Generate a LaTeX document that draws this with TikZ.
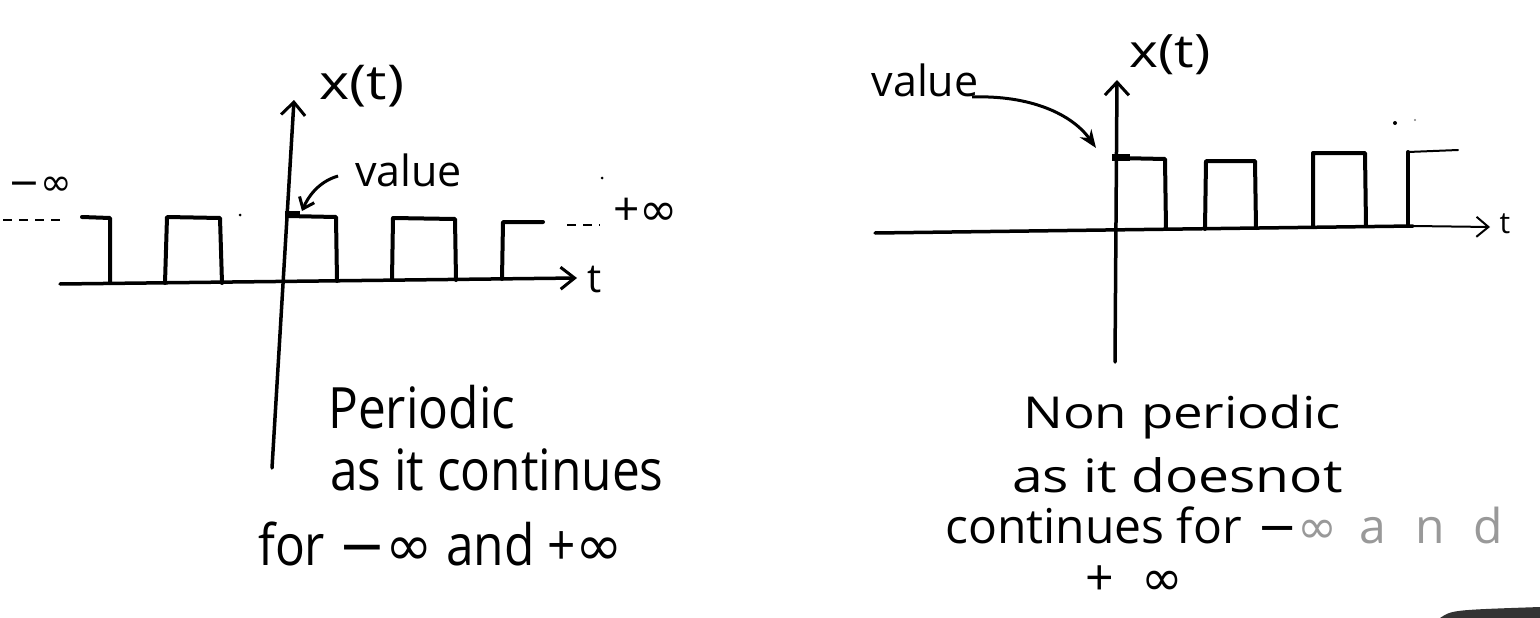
\documentclass[tikz,border=0pt]{standalone}
\usepackage{fontspec}
\setmainfont{Open Sans}
\newfontfamily\narrowf[FakeStretch=0.87]{Open Sans}
\newfontfamily\widef[FakeStretch=1.2]{Open Sans}
\newfontfamily\spacedf[LetterSpace=60]{Open Sans}
\newfontfamily\symf{DejaVu Sans}
\newcommand{\infsym}{{\symf ∞}}
\newcommand{\minussym}{{\symf −}}
\usetikzlibrary{arrows.meta}
\begin{document}
\begin{tikzpicture}[x=1pt,y=-1pt,
  wave/.style={line width=4pt,line join=round,line cap=round},
  thinwave/.style={line width=2pt,line cap=round},
  ax/.style={line width=3.5pt,line cap=round},
  barb/.style={-{Straight Barb[length=13pt,width=24pt,line width=3pt]}},
  valmark/.style={line width=7pt},
  dotline/.style={line width=2.5pt,dash pattern=on 9pt off 7pt},
  lefttxt/.style={font=\narrowf\fontsize{57}{60}\selectfont,inner sep=0pt,anchor=base west},
  righttxt/.style={font=\widef\fontsize{#1}{#1}\selectfont,inner sep=0pt,anchor=base west},
  plaintxt/.style={font=\fontsize{#1}{#1}\selectfont,inner sep=0pt,anchor=base west},
  lbl/.style={font=\fontsize{#1}{#1}\selectfont,inner sep=0pt},
  widelbl/.style={font=\widef\fontsize{#1}{#1}\selectfont,inner sep=0pt}]
\useasboundingbox (0,0) rectangle (1540,618);
\fill[white] (0,0) rectangle (1540,618);

% ---------------- left: periodic ----------------
\coordinate (LAb) at (272,468);
\coordinate (LAt) at (294,100);
\draw[ax,barb] (LAb) -- (LAt);
\coordinate (LXa) at (60,284);
\coordinate (LXb) at (577,278);
\draw[ax,-{Straight Barb[length=14pt,width=22pt,line width=3pt]}] (LXa) -- (LXb);
\node[lbl=40] (Lt) at (595,280) {t};
\node[widelbl=48] (Lx) at (362,86) {x(t)};

\draw[dotline] (3,220) -- (63,220);
\draw[wave] (82,217) -- (110,218) -- (110,283);
\draw[wave] (165,283) -- (167,217) -- (220,218) -- (222,283);
\draw[wave] (287,216) -- (336,217) -- (337,281);
\draw[wave] (392,280) -- (393,218) -- (455,219) -- (456,280);
\draw[wave] (502,279) -- (503,222) -- (543,222);
\draw[valmark] (285,214) -- (300,214);
\fill (240,215) circle (1.5pt);
\fill (602,178) circle (1.5pt);
\draw[dotline] (567,225) -- (600,225);

\node[lbl=38] (Lminf) at (40,186) {\minussym\infsym};
\node[lbl=46] (Lpinf) at (646,212) {+\infsym};

\node[lbl=43,anchor=base west] (Lval) at (355,186) {value};
\coordinate (LvS) at (338,176);
\coordinate (LvE) at (302,211);
\draw[line width=3pt,-{Straight Barb[length=10pt,width=16pt,line width=3pt]}]
  (LvS) .. controls (318,182) and (308,197) .. (LvE);

\node[lefttxt] (P1) at (328,428) {Periodic};
\node[lefttxt] (P2) at (330,490) {as it continues};
\node[lefttxt] (P3) at (258,565) {for \minussym\infsym{} and +\infsym};

% ---------------- right: non periodic ----------------
\coordinate (RAb) at (1115,362);
\coordinate (RAt) at (1117,80);
\draw[ax,barb] (RAb) -- (RAt);
\coordinate (RXa) at (875,233);
\coordinate (RXm) at (1413,226);
\coordinate (RXb) at (1490,227);
\draw[ax] (RXa) -- (RXm);
\draw[thinwave,-{Straight Barb[length=12pt,width=20pt,line width=2pt]}] (RXm) -- (RXb);
\node[lbl=30] (Rt) at (1505,224) {t};
\node[widelbl=46] (Rx) at (1170,55) {x(t)};

\draw[valmark] (1112,157) -- (1130,157);
\draw[wave] (1117,158) -- (1165,159) -- (1166,229);
\draw[wave] (1205,229) -- (1206,161) -- (1255,161) -- (1256,228);
\draw[wave] (1313,227) -- (1313,153) -- (1365,153) -- (1366,226);
\draw[wave] (1408,226) -- (1408,152);
\draw[thinwave] (1408,152) -- (1458,150);
\fill (1395,123) circle (2pt);
\fill[black!50] (1415,120) circle (1.2pt);

\node[lbl=43] (Rval) at (925,80) {value};
\coordinate (RvS) at (972,97);
\coordinate (RvE) at (1096,148);
\draw[line width=3pt,-{Stealth[length=18pt,width=14pt]}]
  (RvS) .. controls (1030,95) and (1072,114) .. (RvE);

\node[righttxt=44] (N1) at (1023,428) {Non periodic};
\node[righttxt=46] (N2) at (1012,492) {as it doesnot};
\node[plaintxt=48] (N3) at (945,543) {continues for\hspace{16pt}\minussym{\color{black!40}\infsym\hspace{22pt}{\spacedf and}}};
\node[plaintxt=50] (N4) at (1085,595) {+\hspace{28pt}\infsym};

% scan shadow bottom right
\fill[black!80] (1440,618) .. controls (1452,610) .. (1540,607) -- (1540,618) -- cycle;
\end{tikzpicture}
\end{document}
